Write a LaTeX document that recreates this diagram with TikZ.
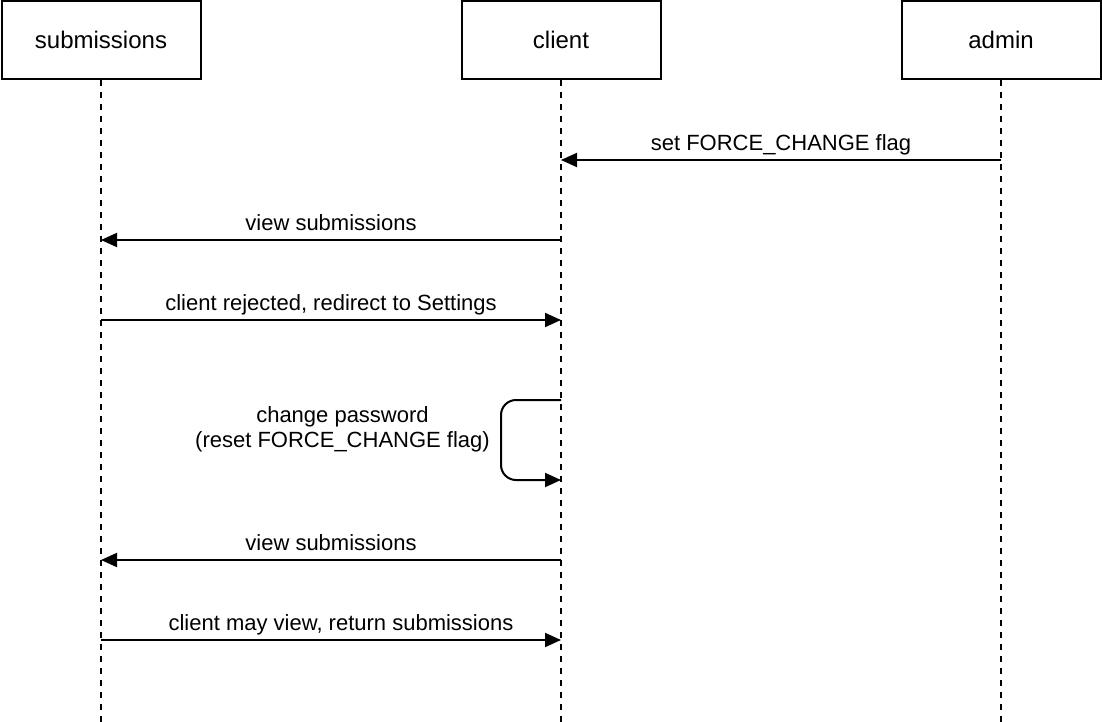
\documentclass[tikz,border=0pt]{standalone}
\usepackage{fontspec}
\setmainfont{Liberation Sans}
\usetikzlibrary{arrows.meta,positioning}

\begin{document}
\begin{tikzpicture}[x=1pt, y=-1pt,
    actor/.style={draw, line width=2pt, minimum width=199pt, minimum height=78pt,
                  inner sep=0pt, font=\fontsize{24}{28}\selectfont},
    lifeline/.style={line width=2pt, dash pattern=on 6pt off 6pt},
    msg/.style={line width=2pt, -{Triangle[length=16pt, width=14pt]}},
    msglabel/.style={above=1pt, text depth=4.6pt, font=\fontsize{22}{25}\selectfont}]

\useasboundingbox (0,0) rectangle (1102,722);

% actors
\node[actor] (submissions) at (101,40) {submissions};
\node[actor] (client)      at (561,40) {client};
\node[actor] (admin)       at (1001,40) {admin};

% lifelines
\coordinate (sEnd) at (101,722);
\coordinate (cEnd) at (561,722);
\coordinate (aEnd) at (1001,722);
\draw[lifeline] (submissions.south) -- (sEnd);
\draw[lifeline] (client.south) -- (cEnd);
\draw[lifeline] (admin.south) -- (aEnd);

% message points
\coordinate (a1) at (1001,160); \coordinate (c1) at (561,160);
\coordinate (c2) at (561,240);  \coordinate (s2) at (101,240);
\coordinate (s3) at (101,320);  \coordinate (c3) at (561,320);
\coordinate (c4) at (561,400);  \coordinate (c5) at (561,480);
\coordinate (c6) at (561,560);  \coordinate (s6) at (101,560);
\coordinate (s7) at (101,640);  \coordinate (c7) at (561,640);

\draw[msg] (a1) -- node[msglabel] {set FORCE\_CHANGE flag} (c1);
\draw[msg] (c2) -- node[msglabel] {view submissions} (s2);
\draw[msg] (s3) -- node[msglabel] {client rejected, redirect to Settings} (c3);
\draw[msg, rounded corners=15pt] (c4) -- ++(-60,0) -- ++(0,80) -- (c5);
\node[anchor=east, inner sep=0pt, align=center, font=\fontsize{22}{25}\selectfont]
    (pw) at (490,429) {change password\\(reset FORCE\_CHANGE flag)};
\draw[msg] (c6) -- node[msglabel] {view submissions} (s6);
\draw[msg] (s7) -- node[msglabel, xshift=10pt] {client may view, return submissions} (c7);

\end{tikzpicture}
\end{document}
